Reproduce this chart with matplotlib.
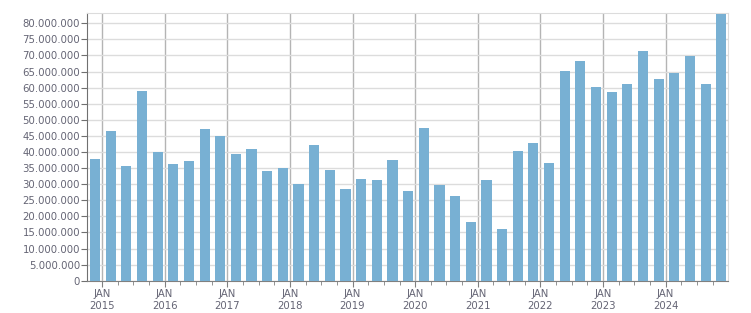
import numpy as np
import matplotlib.pyplot as plt
from matplotlib.ticker import FuncFormatter, MultipleLocator

# quarterly values, one bar per quarter (bars drawn just before each quarter start)
quarter_start = [2015 + 0.25 * i for i in range(41)]
values = [37.8, 46.5, 35.6, 59.0,
          40.0, 36.3, 37.2, 47.2,
          45.0, 39.4, 40.9, 34.1,
          35.0, 30.1, 42.2, 34.4,
          28.5, 31.6, 31.3, 37.5,
          27.9, 47.5, 29.7, 26.3,
          18.2, 31.3, 16.1, 40.3,
          42.8, 36.6, 65.2, 68.3,
          60.2, 58.6, 61.1, 71.4,
          62.7, 64.6, 69.8, 61.1,
          82.9]
years = list(range(2015, 2025))
year_labels = ['JAN\n%d' % y for y in years]

txt = '#646474'
bar_col = '#78b0d3'

fig = plt.figure(figsize=(7.51, 3.13), dpi=100)
ax = fig.add_axes([0.1158, 0.1032, 0.8540, 0.8543])

x = np.array(quarter_start) - 0.112
ax.bar(x, np.array(values) * 1e6, width=0.162, color=bar_col, zorder=3)

ax.set_xlim(2014.76, 2025.0)
ax.set_ylim(0, 83.1e6)

ax.yaxis.set_major_locator(MultipleLocator(5e6))
ax.yaxis.set_major_formatter(FuncFormatter(lambda v, p: '{:,.0f}'.format(v).replace(',', '.')))
ax.set_xticks(years)
ax.set_xticklabels(year_labels)
ax.set_xticks(quarter_start[:-1], minor=True)

ax.grid(axis='y', color='#dcdcdc', lw=1, zorder=0)
ax.grid(axis='x', which='major', color='#b4b4b4', lw=1, zorder=1)

for s in ['top', 'right']:
    ax.spines[s].set_color('#dcdcdc')
ax.spines['left'].set_color('#707070')
ax.spines['bottom'].set_color('#808080')

ax.tick_params(axis='y', length=4, color='#707070', labelsize=7.3, labelcolor=txt, pad=1)
ax.tick_params(axis='x', which='major', length=4, color='#808080', labelsize=7.3,
               labelcolor=txt, pad=2)
ax.tick_params(axis='x', which='minor', length=3, color='#808080')
for lab in ax.get_xticklabels():
    lab.set_linespacing(1.25)

fig.savefig('out.png', dpi=100)
